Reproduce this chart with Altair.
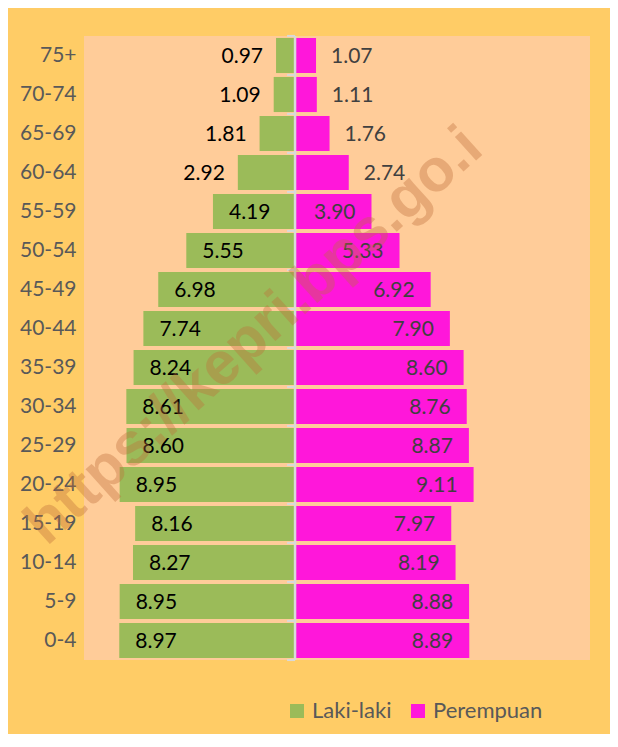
import altair as alt
import pandas as pd

ages = ["75+", "70-74", "65-69", "60-64", "55-59", "50-54", "45-49", "40-44",
        "35-39", "30-34", "25-29", "20-24", "15-19", "10-14", "5-9", "0-4"]
male = [0.97, 1.09, 1.81, 2.92, 4.19, 5.55, 6.98, 7.74,
        8.24, 8.61, 8.60, 8.95, 8.16, 8.27, 8.95, 8.97]
female = [1.07, 1.11, 1.76, 2.74, 3.90, 5.33, 6.92, 7.90,
          8.60, 8.76, 8.87, 9.11, 7.97, 8.19, 8.88, 8.89]
sexes = ["Laki-laki", "Perempuan"]
colors = ["#9BBB59", "#FF17DA"]
watermark = "https://kepri.bps.go.i"

rows = []
for a, m, f in zip(ages, male, female):
    rows.append({"age": a, "sex": sexes[0], "value": m, "x": -m, "label": f"{m:.2f}"})
    rows.append({"age": a, "sex": sexes[1], "value": f, "x": f, "label": f"{f:.2f}"})
df = pd.DataFrame(rows)

W, H = 506, 624
FONT = "Lato"
x_scale = alt.Scale(domain=[-10.77, 15.05], nice=False, zero=False)
y_scale = alt.Scale(paddingInner=0.1, paddingOuter=0.05)
y_axis = alt.Axis(title=None, ticks=False, domain=False, grid=False,
                  labelFont=FONT, labelFontSize=21, labelColor="#595959",
                  labelPadding=8)


def Y(**kw):
    return alt.Y("age:N", sort=ages, scale=y_scale, axis=y_axis, **kw)


base = alt.Chart(df)

bars = base.mark_bar().encode(
    x=alt.X("x:Q", scale=x_scale, axis=None),
    x2=alt.X2(datum=0),
    y=Y(),
    color=alt.Color("sex:N", scale=alt.Scale(domain=sexes, range=colors),
                    legend=alt.Legend(title=None, orient="none", legendX=202, legendY=664,
                                      direction="horizontal", symbolType="square",
                                      symbolSize=196, symbolStrokeWidth=0,
                                      labelFont=FONT, labelFontSize=22,
                                      labelColor="#595959", columnPadding=15,
                                      labelOffset=4)),
)

center = alt.Chart(pd.DataFrame({"z": [0]})).mark_rule(
    color="#D9D9D9", strokeWidth=2.5).encode(
    x=alt.X("z:Q", scale=x_scale, axis=None), y=alt.value(0), y2=alt.value(H))

ticks = base.transform_filter(f"datum.sex == '{sexes[0]}'").mark_rule(
    color="#D9D9D9", strokeWidth=2, x2Offset=-8, yOffset=-2).encode(
    x=alt.X(datum=0, scale=x_scale), x2=alt.X2(datum=0), y=Y(bandPosition=0))
tick_last = base.transform_filter(f"datum.sex == '{sexes[0]}' && datum.age == '{ages[-1]}'").mark_rule(
    color="#D9D9D9", strokeWidth=2, x2Offset=-8, yOffset=2).encode(
    x=alt.X(datum=0, scale=x_scale), x2=alt.X2(datum=0), y=Y(bandPosition=1))

txt = dict(font=FONT, fontSize=21, baseline="middle", dy=1)
male_in = base.transform_filter(f"datum.sex == '{sexes[0]}' && datum.value >= 3.5").mark_text(
    align="left", dx=16, color="#000000", **txt).encode(
    x=alt.X("x:Q", scale=x_scale), y=Y(), text="label:N")
male_out = base.transform_filter(f"datum.sex == '{sexes[0]}' && datum.value < 3.5").mark_text(
    align="right", dx=-13, color="#000000", **txt).encode(
    x=alt.X("x:Q", scale=x_scale), y=Y(), text="label:N")
fem_in = base.transform_filter(f"datum.sex == '{sexes[1]}' && datum.value >= 3.5").mark_text(
    align="right", dx=-16, color="#404040", **txt).encode(
    x=alt.X("x:Q", scale=x_scale), y=Y(), text="label:N")
fem_out = base.transform_filter(f"datum.sex == '{sexes[1]}' && datum.value < 3.5").mark_text(
    align="left", dx=15, color="#404040", **txt).encode(
    x=alt.X("x:Q", scale=x_scale), y=Y(), text="label:N")

wm = alt.Chart(pd.DataFrame({"t": [watermark]})).mark_text(
    angle=318, fontSize=60, font="Liberation Sans", fontWeight="bold",
    color="#BF6E3A", opacity=0.36, align="center", baseline="middle").encode(
    x=alt.value(170), y=alt.value(300), text="t:N")

chart = alt.layer(bars, center, ticks, tick_last, male_in, male_out, fem_in, fem_out, wm).properties(
    width=W, height=H,
    background="#FFCC66",
    autosize=alt.AutoSizeParams(type="none"),
    padding={"left": 76, "top": 28, "right": 20, "bottom": 74},
).configure_view(fill="#FFCC99", strokeWidth=0)

chart.save("out.html", embed_options={"renderer": "svg", "actions": False})
